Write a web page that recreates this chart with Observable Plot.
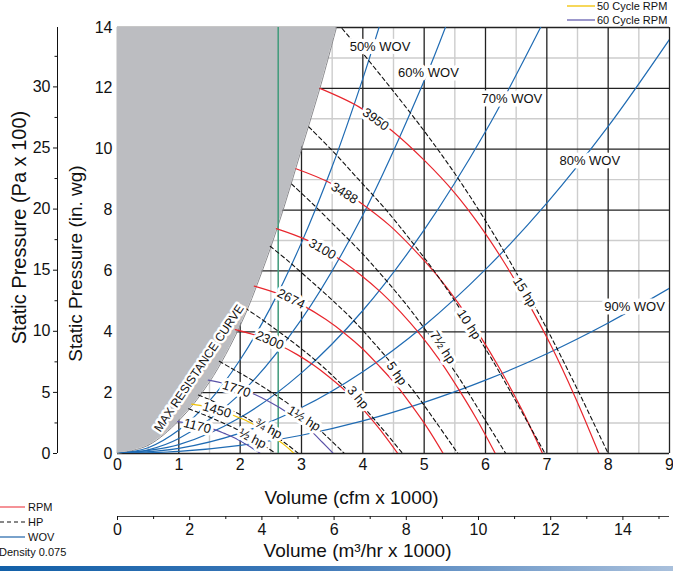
<!DOCTYPE html>
<html><head><meta charset="utf-8">
<script src="https://cdn.jsdelivr.net/npm/d3@7"></script>
<script src="https://cdn.jsdelivr.net/npm/@observablehq/plot@0.6"></script>
<style>
body{margin:0;background:#fff;font-family:"Liberation Sans",Arial,Helvetica,sans-serif;}
#wrap{position:relative;width:673px;height:571px;overflow:hidden;background:#fff;}
.leg{position:absolute;}
.leg text{font-family:"Liberation Sans",Arial,sans-serif;font-size:11px;fill:#111;}
#bar{position:absolute;left:0;top:566px;width:673px;height:5px;background:linear-gradient(to right,#1260a8,#3d78b8 45%,#a9c0dc);}
</style></head><body>
<div id="wrap">
<div id="chart"></div>
<div class="leg" style="left:567px;top:0px"><svg width="106" height="26">
<line x1="0" x2="28" y1="6" y2="6" stroke="#f2c200" stroke-width="1.3"/><text x="30" y="10">50 Cycle RPM</text>
<line x1="0" x2="28" y1="20" y2="20" stroke="#6660b0" stroke-width="1.3"/><text x="30" y="24">60 Cycle RPM</text>
</svg></div>
<div class="leg" style="left:0px;top:498px"><svg width="90" height="64">
<line x1="0" x2="25" y1="9" y2="9" stroke="#ee4a52" stroke-width="1.2"/><text x="28" y="13">RPM</text>
<line x1="0" x2="25" y1="24" y2="24" stroke="#111" stroke-width="1.1" stroke-dasharray="4,3"/><text x="28" y="28">HP</text>
<line x1="0" x2="25" y1="39" y2="39" stroke="#1f63a8" stroke-width="1.2"/><text x="28" y="43">WOV</text>
<text x="-1" y="58">Density 0.075</text>
</svg></div>
<div id="bar"></div>
</div>
<script>
// ---- axes / ticks ----
const xTicks = [0,1,2,3,4,5,6,7,8,9];
const yTicks = [0,2,4,6,8,10,12,14];
const paTicks = [0,5,10,15,20,25,30];
const paMinorTicks = [2.5,7.5,12.5,17.5,22.5,27.5,32.5];
const m3Ticks = [0,2,4,6,8,10,12,14];
const m3MinorTicks = [1,3,5,7,9,11,13,15];
const PA100_PER_INWG = 2.49;
const M3H_PER_CFM = 1.699;

// ---- grid ----
const gridMajorX = [0,1,2,3,4,5,6,7,8,9];
const gridMinorX = [0.5,1.5,2.5,3.5,4.5,5.5,6.5,7.5,8.5];
const gridMajorY = [0,2,4,6,8,10,12,14];
const gridMinorY = [1,3,5,7,9,11,13];

// ---- max resistance curve ----
const maxResX = [0,0.5,1,1.5,2,2.36,2.7,3.0,3.3,3.57];
const maxResY = [0,0.27,1.08,2.35,4.2,6,8,10,12,14];
const greenLineX = 2.62;

// ---- RPM curves ----
const rpmValues = [1170,1450,1770,2300,2674,3100,3488,3950];
const rpmType = ["60","50","60","rpm","rpm","rpm","rpm","rpm"];
const rpmCurveX = [
 [0.98,1.16,1.33,1.49,1.63,1.74,1.86,1.98,2.09,2.21,2.33],
 [1.21,1.44,1.64,1.84,2.02,2.16,2.31,2.45,2.59,2.74,2.88],
 [1.48,1.76,2.01,2.25,2.46,2.64,2.81,2.99,3.17,3.34,3.52],
 [1.92,2.29,2.61,2.93,3.20,3.43,3.66,3.89,4.11,4.34,4.57],
 [2.23,2.66,3.03,3.40,3.72,3.99,4.25,4.52,4.78,5.05,5.31],
 [2.59,3.08,3.51,3.94,4.31,4.62,4.93,5.24,5.54,5.85,6.16],
 [2.91,3.47,3.95,4.44,4.85,5.20,5.55,5.89,6.24,6.59,6.93],
 [3.30,3.93,4.48,5.02,5.50,5.89,6.28,6.67,7.07,7.46,7.85]
];
const rpmCurveY = [
 [1.05,1.00,0.93,0.84,0.75,0.66,0.56,0.44,0.31,0.16,0],
 [1.62,1.54,1.43,1.29,1.15,1.02,0.86,0.68,0.48,0.25,0],
 [2.41,2.29,2.13,1.93,1.72,1.51,1.28,1.01,0.71,0.37,0],
 [4.07,3.86,3.59,3.25,2.90,2.55,2.16,1.71,1.20,0.63,0],
 [5.50,5.22,4.86,4.40,3.92,3.45,2.91,2.31,1.62,0.85,0],
 [7.39,7.02,6.53,5.91,5.27,4.64,3.92,3.10,2.18,1.15,0],
 [9.36,8.89,8.26,7.49,6.67,5.88,4.96,3.93,2.76,1.45,0],
 [12.0,11.4,10.6,9.6,8.56,7.54,6.36,5.04,3.54,1.86,0]
];
const rpmLabelX = [1.30,1.62,1.94,2.48,2.83,3.34,3.70,4.21];
const rpmLabelY = [0.90,1.43,2.12,3.72,5.08,6.72,8.56,10.98];
const rpmLabelAngle = [14,16,18,23,27,30,32,36];

// ---- HP curves ----
const hpLabels = ["½ hp","¾ hp","1½ hp","3 hp","5 hp","7½ hp","10 hp","15 hp"];
const hpCurveX = [
 [1.16,1.29,1.45,1.61,1.77,1.94,2.10,2.26,2.42,2.58],
 [1.32,1.48,1.66,1.84,2.03,2.21,2.40,2.58,2.77,2.95],
 [1.66,1.85,2.08,2.31,2.54,2.78,3.01,3.24,3.47,3.70],
 [2.08,2.33,2.62,2.91,3.20,3.49,3.78,4.07,4.36,4.65],
 [2.49,2.78,3.12,3.47,3.82,4.16,4.51,4.86,5.20,5.55],
 [2.84,3.17,3.56,3.96,4.35,4.75,5.14,5.54,5.93,6.33],
 [3.12,3.49,3.92,4.36,4.79,5.23,5.66,6.10,6.53,6.97],
 [3.59,4.00,4.50,5.00,5.50,6.00,6.50,7.00,7.50,8.00]
];
const hpCurveY = [
 [1.47,1.37,1.24,1.10,0.96,0.80,0.62,0.43,0.22,0],
 [1.92,1.79,1.62,1.44,1.25,1.04,0.81,0.56,0.29,0],
 [3.03,2.81,2.55,2.27,1.97,1.64,1.27,0.88,0.45,0],
 [4.78,4.44,4.02,3.58,3.11,2.59,2.01,1.39,0.71,0],
 [6.81,6.33,5.73,5.10,4.43,3.68,2.86,1.97,1.01,0],
 [8.85,8.23,7.45,6.64,5.76,4.79,3.73,2.57,1.31,0],
 [10.73,9.98,9.03,8.05,6.98,5.81,4.52,3.11,1.59,0],
 [14.14,13.15,11.90,10.60,9.20,7.65,5.95,4.10,2.10,0]
];
const hpLabelX = [2.20,2.46,3.04,3.92,4.55,5.30,5.73,6.64];
const hpLabelY = [0.49,0.82,1.15,1.84,2.63,3.49,4.24,5.30];
const hpLabelAngle = [27,28,32,50,55,57,57,58];

// ---- WOV curves ----
const wovLabels = ["50% WOV","60% WOV","70% WOV","80% WOV","90% WOV"];
const wovCurveX = [
 [0,0.5,1,1.5,2,2.5,3,3.5,4,4.3],
 [0,0.5,1,2,3,4,5,5.4],
 [0,1,2,3,4,5,6,7],
 [0,1,2,3,4,5,6,7,8,9],
 [0,1,2,3,4,5,6,7,8,9]
];
const wovCurveY = [
 [0,0.19,0.77,1.73,3.08,4.81,6.93,9.43,12.32,14.24],
 [0,0.12,0.49,1.96,4.41,7.84,12.25,14.29],
 [0,0.29,1.18,2.65,4.70,7.35,10.58,14.41],
 [0,0.17,0.67,1.51,2.69,4.20,6.05,8.23,10.75,13.61],
 [0,0.07,0.27,0.60,1.07,1.68,2.41,3.28,4.29,5.43]
];
const wovLabelX = [4.28,5.07,6.43,7.70,8.43];
const wovLabelY = [13.38,12.52,11.64,9.61,4.82];

const maxResLabel = "MAX RESISTANCE CURVE";
const maxResLabelPos = {x: 1.33, y: 2.8, angle: -56};

// ---- tables ----
const maxRes = maxResX.map((x,i) => ({x, y: maxResY[i]}));
const rpmRows = rpmValues.flatMap((r,i) => rpmCurveX[i].map((x,j) => ({rpm:r, type:rpmType[i], x, y:rpmCurveY[i][j]})));
const hpRows = hpLabels.flatMap((h,i) => hpCurveX[i].map((x,j) => ({hp:h, x, y:hpCurveY[i][j]})));
const wovRows = wovLabels.flatMap((w,i) => wovCurveX[i].map((x,j) => ({wov:w, x, y:wovCurveY[i][j]})));
const rpmLab = rpmValues.map((r,i) => ({t:String(r), x:rpmLabelX[i], y:rpmLabelY[i], a:rpmLabelAngle[i]}));
const hpLab = hpLabels.map((h,i) => ({t:h, x:hpLabelX[i], y:hpLabelY[i], a:hpLabelAngle[i]}));
const wovLab = wovLabels.map((w,i) => ({t:w, x:wovLabelX[i], y:wovLabelY[i]}));

const RED = "#e8262d", PURPLE = "#5a52a8", YELLOW = "#f2c200", BLUE = "#1f6bb3";
const lineOpts = {x:"x", y:"y", curve:"catmull-rom", clip:true, strokeWidth:1.2};
const titleOpts = {text: d => d, textAnchor: "middle", lineAnchor: "middle", fill: "#111"};

const chart = Plot.plot({
  width: 673, height: 566,
  marginLeft: 117, marginRight: 4, marginTop: 27, marginBottom: 113,
  x: {domain: [0, 9]},
  y: {domain: [0, 14]},
  style: {fontFamily: "'Liberation Sans', Arial, sans-serif", color: "#111", background: "white", overflow: "visible"},
  marks: [
    Plot.ruleX(gridMinorX, {stroke: "#cdcdcd", strokeWidth: 1.4}),
    Plot.ruleY(gridMinorY, {stroke: "#cdcdcd", strokeWidth: 1.4}),
    Plot.ruleX(gridMajorX, {stroke: "#222", strokeWidth: 1.3}),
    Plot.ruleY(gridMajorY, {stroke: "#222", strokeWidth: 1.3}),
    Plot.areaX(maxRes, {x: "x", y: "y", fill: "#bcbdc1", curve: "catmull-rom"}),
    Plot.line(maxRes, {x: "x", y: "y", stroke: "#8a8a8e", strokeWidth: 1, curve: "catmull-rom"}),
    Plot.ruleX([greenLineX], {stroke: "#3f9a7a", strokeWidth: 1.5}),
    Plot.line(wovRows, {...lineOpts, z: "wov", stroke: BLUE}),
    Plot.line(rpmRows.filter(d => d.type === "rpm"), {...lineOpts, z: "rpm", stroke: RED}),
    Plot.line(rpmRows.filter(d => d.type === "60"), {...lineOpts, z: "rpm", stroke: PURPLE}),
    Plot.line(rpmRows.filter(d => d.type === "50"), {...lineOpts, z: "rpm", stroke: YELLOW}),
    Plot.line(hpRows, {...lineOpts, z: "hp", stroke: "#111", strokeWidth: 1.1, strokeDasharray: "4,3"}),
    Plot.text(wovLab, {x: "x", y: "y", text: "t", fontSize: 13, fill: "#111", stroke: "white", strokeWidth: 7}),
    Plot.text(rpmLab, {x: "x", y: "y", text: "t", rotate: "a", fontSize: 13, fill: "#111", stroke: "white", strokeWidth: 6}),
    Plot.text(hpLab, {x: "x", y: "y", text: "t", rotate: "a", fontSize: 13, fill: "#111", stroke: "white", strokeWidth: 6}),
    Plot.text([maxResLabel], {x: () => maxResLabelPos.x, y: () => maxResLabelPos.y, text: d => d, rotate: maxResLabelPos.angle, fontSize: 12, fill: "#111", stroke: "white", strokeWidth: 5}),
    // main axes
    Plot.axisX(xTicks, {anchor: "bottom", tickSize: 0, tickPadding: 5, fontSize: 16, label: null}),
    Plot.axisY(yTicks, {anchor: "left", tickSize: 0, tickPadding: 5, fontSize: 16, label: null}),
    // Pa axis
    Plot.ruleX([0], {dx: -60, stroke: "#111", strokeWidth: 1}),
    Plot.axisY(paTicks.map(v => v / PA100_PER_INWG), {anchor: "left", dx: -60, tickSize: 4, tickPadding: 3, fontSize: 16, label: null, tickFormat: d => String(Math.round(d * PA100_PER_INWG))}),
    Plot.axisY(paMinorTicks.map(v => v / PA100_PER_INWG), {anchor: "left", dx: -60, tickSize: 2.5, fontSize: 16, label: null, tickFormat: () => ""}),
    // m3 axis
    Plot.ruleY([0], {dy: 63, stroke: "#444", strokeWidth: 1}),
    Plot.axisX(m3Ticks.map(v => v / M3H_PER_CFM), {anchor: "bottom", dy: 63, tickSize: 4, tickPadding: 3, fontSize: 16, label: null, tickFormat: d => String(Math.round(d * M3H_PER_CFM))}),
    Plot.axisX(m3MinorTicks.map(v => v / M3H_PER_CFM), {anchor: "bottom", dy: 63, tickSize: 3, fontSize: 16, label: null, tickFormat: () => ""}),
    // titles
    Plot.text(["Volume (cfm x 1000)"], {...titleOpts, frameAnchor: "bottom", dx: -42, dy: 44, fontSize: 19}),
    Plot.text(["Volume (m³/hr x 1000)"], {...titleOpts, frameAnchor: "bottom", dx: -36, dy: 97, fontSize: 19}),
    Plot.text(["Static Pressure (in. wg)"], {...titleOpts, frameAnchor: "left", dx: -42, dy: 23, rotate: -90, fontSize: 19}),
    Plot.text(["Static Pressure (Pa x 100)"], {...titleOpts, frameAnchor: "left", dx: -98, dy: -13, rotate: -90, fontSize: 20})
  ]
});
document.getElementById("chart").appendChild(chart);
</script>
</body></html>
